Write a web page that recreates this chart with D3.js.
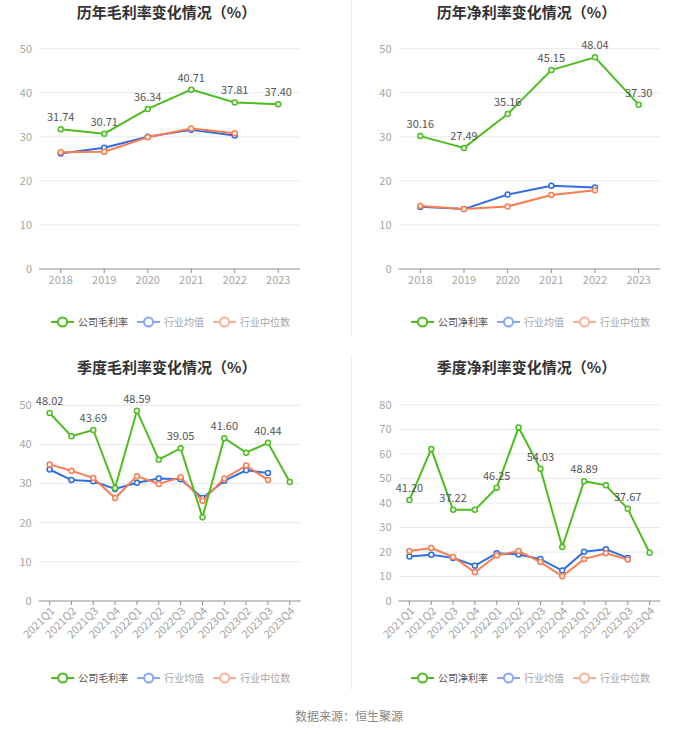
<!DOCTYPE html>
<html>
<head>
<meta charset="utf-8">
<script src="https://cdn.jsdelivr.net/npm/d3@7"></script>
<style>
  body { margin: 0; background: #fff; }
  svg { display: block; font-family: "Noto Sans CJK SC", "Noto Sans", sans-serif; }
</style>
</head>
<body>
<div id="chart"></div>
<script>
// categories
const years = ["2018", "2019", "2020", "2021", "2022", "2023"];
const quarters = ["2021Q1", "2021Q2", "2021Q3", "2021Q4", "2022Q1", "2022Q2", "2022Q3", "2022Q4",
                  "2023Q1", "2023Q2", "2023Q3", "2023Q4"];

// annual gross margin
const yearGross = [31.74, 30.71, 36.34, 40.71, 37.81, 37.40];
const yearGrossAvg = [26.2, 27.5, 30.0, 31.6, 30.3];
const yearGrossMed = [26.5, 26.6, 29.9, 31.9, 30.8];

// annual net margin
const yearNet = [30.16, 27.49, 35.16, 45.15, 48.04, 37.30];
const yearNetAvg = [14.1, 13.6, 16.9, 18.9, 18.5];
const yearNetMed = [14.3, 13.6, 14.2, 16.8, 17.9];

// quarterly gross margin
const qGross = [48.02, 42.1, 43.69, 28.9, 48.59, 36.1, 39.05, 21.4, 41.60, 37.9, 40.44, 30.4];
const qGrossAvg = [33.6, 30.9, 30.6, 28.6, 30.2, 31.3, 31.1, 26.3, 30.7, 33.4, 32.7];
const qGrossMed = [34.9, 33.3, 31.4, 26.3, 31.9, 29.9, 31.6, 25.6, 31.3, 34.6, 30.9];

// quarterly net margin
const qNet = [41.20, 62.0, 37.22, 37.2, 46.25, 70.8, 54.03, 22.0, 48.89, 47.2, 37.67, 19.7];
const qNetAvg = [18.2, 18.9, 17.6, 14.4, 19.5, 19.0, 17.1, 12.4, 20.1, 21.1, 17.6];
const qNetMed = [20.4, 21.6, 18.0, 11.7, 18.6, 20.4, 15.9, 10.1, 17.1, 19.5, 16.9];

const green = "#4dbd1f", blue = "#2f6de3", orange = "#fb7c4f";
const blueLight = "#86a8f2", orangeLight = "#fdb097";

const width = 700, height = 734;

const svg = d3.select("#chart").append("svg")
    .attr("width", width)
    .attr("height", height);

// panel dividers
svg.append("line").attr("x1", 351.5).attr("x2", 351.5).attr("y1", 0).attr("y2", 335)
    .attr("stroke", "#eeeeee");
svg.append("line").attr("x1", 351.5).attr("x2", 351.5).attr("y1", 355).attr("y2", 690)
    .attr("stroke", "#eeeeee");

function drawPanel(opt) {
    const g = svg.append("g");
    const x = d3.scaleBand().domain(opt.cats).range([opt.x0, opt.x1]);
    const y = d3.scaleLinear().domain([0, opt.yMax]).range([opt.y0, opt.yTop]);
    const cx = (i) => x(opt.cats[i]) + x.bandwidth() / 2;

    // title
    g.append("text")
        .attr("x", (opt.x0 + opt.x1) / 2 - 3)
        .attr("y", opt.titleY)
        .attr("text-anchor", "middle")
        .attr("font-size", 15)
        .attr("font-weight", "bold")
        .attr("fill", "#333")
        .text(opt.title);

    // grid
    const ticks = d3.range(0, opt.yMax + 0.1, 10);
    g.selectAll(".grid").data(ticks.filter(d => d > 0)).join("line")
        .attr("x1", opt.x0).attr("x2", opt.x1)
        .attr("y1", d => y(d)).attr("y2", d => y(d))
        .attr("stroke", "#e6eaf3");

    // y labels
    g.selectAll(".yl").data(ticks).join("text")
        .attr("x", opt.x0 - 7)
        .attr("y", d => y(d))
        .attr("dy", "0.35em")
        .attr("text-anchor", "end")
        .attr("font-size", 11)
        .attr("fill", "#a6a6a6")
        .text(d => d);

    // x axis
    g.append("line")
        .attr("x1", opt.x0).attr("x2", opt.x1)
        .attr("y1", opt.y0).attr("y2", opt.y0)
        .attr("stroke", "#8f8f8f");
    g.selectAll(".xt").data(opt.cats).join("line")
        .attr("x1", (d, i) => cx(i)).attr("x2", (d, i) => cx(i))
        .attr("y1", opt.y0).attr("y2", opt.y0 + 4)
        .attr("stroke", "#8f8f8f");

    if (opt.rotate) {
        g.selectAll(".xl").data(opt.cats).join("text")
            .attr("transform", (d, i) => `translate(${cx(i) + 3},${opt.y0 + 8}) rotate(-45)`)
            .attr("text-anchor", "end")
            .attr("dy", "0.35em")
            .attr("font-size", 11)
            .attr("fill", "#a6a6a6")
            .text(d => d);
    } else {
        g.selectAll(".xl").data(opt.cats).join("text")
            .attr("x", (d, i) => cx(i))
            .attr("y", opt.y0 + 15)
            .attr("text-anchor", "middle")
            .attr("font-size", 11)
            .attr("fill", "#a6a6a6")
            .text(d => d);
    }

    const line = d3.line().x((d, i) => cx(i)).y(d => y(d));

    // blue first, then orange on top, company line last
    const series = [
        {vals: opt.avg, color: blue},
        {vals: opt.med, color: orange},
        {vals: opt.main, color: green}
    ];
    series.forEach(s => {
        g.append("path").datum(s.vals)
            .attr("d", line)
            .attr("fill", "none")
            .attr("stroke", s.color)
            .attr("stroke-width", 2);
        g.selectAll(null).data(s.vals).join("circle")
            .attr("cx", (d, i) => cx(i))
            .attr("cy", d => y(d))
            .attr("r", 2.5)
            .attr("fill", "#fff")
            .attr("stroke", s.color)
            .attr("stroke-width", 1.5);
    });

    // data labels
    g.selectAll(".dl").data(opt.main).join("text")
        .filter((d, i) => i % opt.labelEvery === 0)
        .attr("x", (d, i) => cx(i * opt.labelEvery))
        .attr("y", d => y(d) - 8)
        .attr("text-anchor", "middle")
        .attr("font-size", 11)
        .attr("fill", "#555")
        .text(d => d.toFixed(2));

    // legend
    const items = [
        {name: opt.mainName, color: green, text: "#555"},
        {name: "行业均值", color: blueLight, text: "#a6a6a6"},
        {name: "行业中位数", color: orangeLight, text: "#a6a6a6"}
    ];
    const lg = g.append("g");
    let pos = 0;
    items.forEach(it => {
        const item = lg.append("g").attr("transform", `translate(${pos},0)`);
        item.append("line").attr("x1", 0).attr("x2", 23).attr("y1", 0).attr("y2", 0)
            .attr("stroke", it.color).attr("stroke-width", 2);
        item.append("circle").attr("cx", 11.5).attr("cy", 0).attr("r", 4.5)
            .attr("fill", "#fff").attr("stroke", it.color).attr("stroke-width", 2);
        const t = item.append("text").attr("x", 27).attr("dy", "0.35em")
            .attr("font-size", 10).attr("fill", it.text).text(it.name);
        pos += 27 + t.node().getComputedTextLength() + 9;
    });
    const total = pos - 9;
    lg.attr("transform", `translate(${(opt.x0 + opt.x1) / 2 + 1 - total / 2},${opt.legendY})`);
}

drawPanel({
    title: "历年毛利率变化情况（%）", titleY: 18,
    cats: years, x0: 39, x1: 300, y0: 269, yTop: 48.7, yMax: 50,
    main: yearGross, avg: yearGrossAvg, med: yearGrossMed,
    mainName: "公司毛利率", labelEvery: 1, legendY: 322
});
drawPanel({
    title: "历年净利率变化情况（%）", titleY: 18,
    cats: years, x0: 398.5, x1: 660.5, y0: 269, yTop: 48.7, yMax: 50,
    main: yearNet, avg: yearNetAvg, med: yearNetMed,
    mainName: "公司净利率", labelEvery: 1, legendY: 322
});
drawPanel({
    title: "季度毛利率变化情况（%）", titleY: 373,
    cats: quarters, x0: 38.7, x1: 300.7, y0: 601, yTop: 405.3, yMax: 50,
    main: qGross, avg: qGrossAvg, med: qGrossMed, rotate: true,
    mainName: "公司毛利率", labelEvery: 2, legendY: 678
});
drawPanel({
    title: "季度净利率变化情况（%）", titleY: 373,
    cats: quarters, x0: 398.5, x1: 660.5, y0: 601, yTop: 405, yMax: 80,
    main: qNet, avg: qNetAvg, med: qNetMed, rotate: true,
    mainName: "公司净利率", labelEvery: 2, legendY: 678
});

// source
svg.append("text")
    .attr("x", 349).attr("y", 721)
    .attr("text-anchor", "middle")
    .attr("font-size", 12)
    .attr("fill", "#888")
    .text("数据来源：恒生聚源");
</script>
</body>
</html>
